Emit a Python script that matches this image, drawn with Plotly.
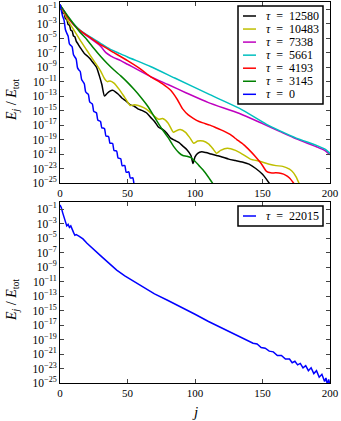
import plotly.graph_objects as go
from plotly.subplots import make_subplots

# exponents: log10(E_j / E_tot)

# top panel, tau = 12580 (black)
J_12580 = [0, 1, 2, 3, 4, 5, 6, 7, 8, 9, 10, 11, 12, 13, 15, 18, 21, 23, 25, 27, 29, 31, 33,
           35, 37, 39, 41, 43, 46, 49, 52, 55, 58, 61, 64, 67, 70, 73, 76, 79, 82, 85, 88,
           91, 94, 97, 98.5, 100, 102, 105, 108, 112, 116, 120, 125, 130, 135, 140, 145,
           150, 153, 156]
LOG_12580 = [-0.4, -0.9, -1.6, -1.5, -2.3, -2.4, -3.1, -3.2, -3.9, -4.0, -4.7, -4.8, -5.4,
             -5.7, -6.3, -7.1, -7.6, -8.0, -8.5, -9.0, -10.1, -11.4, -13.0, -12.6, -12.3,
             -12.2, -12.4, -12.7, -13.3, -13.7, -14.2, -14.4, -14.8, -15.0, -15.3, -15.9,
             -16.5, -17.3, -17.6, -18.1, -18.8, -19.1, -19.4, -19.9, -20.4, -21.2, -22.3,
             -21.4, -20.9, -20.7, -20.8, -21.0, -21.2, -21.4, -21.7, -21.9, -22.1, -22.4,
             -23.0, -23.8, -24.5, -25.3]

# tau = 10483 (yellow)
J_10483 = [0, 3, 6, 10, 15, 20, 25, 30, 33, 35, 37, 40, 44, 48, 52, 55, 58, 62, 66, 70, 73,
           76, 80, 84, 86, 89, 93, 96, 99, 102, 106, 110, 113, 116, 119, 124, 130, 135, 141,
           148, 155, 160, 165, 170, 173, 175, 177, 179]
LOG_10483 = [-0.4, -1.5, -2.6, -3.8, -5.3, -6.7, -8.1, -9.5, -10.6, -11.0, -10.9, -11.2,
             -12.1, -13.2, -14.3, -14.2, -14.3, -14.6, -15.1, -15.8, -16.2, -16.1, -16.7,
             -18.0, -17.8, -17.6, -18.0, -18.7, -19.5, -19.2, -19.2, -19.6, -20.2, -20.9,
             -20.5, -20.2, -20.5, -21.0, -21.7, -22.0, -22.4, -22.6, -22.7, -23.1, -23.6,
             -24.2, -25.0, -25.6]

# tau = 7338 (magenta)
J_7338 = [0, 3, 6, 10, 15, 23, 30, 34, 38, 45, 50, 67, 80, 94, 110, 133, 150, 163, 175,
          190, 196, 200]
LOG_7338 = [-0.4, -1.3, -2.2, -3.1, -4.0, -5.1, -6.1, -7.0, -7.5, -8.1, -8.6, -10.3, -11.4,
            -12.6, -13.9, -15.4, -16.8, -17.9, -18.9, -20.0, -20.5, -21.1]

# tau = 5661 (cyan)
J_5661 = [0, 3, 6, 10, 15, 23, 30, 37, 44, 50, 67, 85, 111, 133, 153, 163, 175, 190, 196, 200]
LOG_5661 = [-0.4, -1.3, -2.1, -3.0, -3.9, -4.9, -5.7, -6.5, -7.1, -7.6, -8.9, -10.5, -12.8,
            -14.7, -16.9, -17.8, -18.8, -19.8, -20.3, -20.9]

# tau = 4193 (red)
J_4193 = [0, 3, 6, 10, 16, 23, 30, 40, 50, 60, 67, 76, 82, 87, 91, 95, 99, 103, 106, 111,
          116, 121, 126, 131, 136, 141, 145, 149, 153, 156, 160, 164, 167, 170, 173, 175]
LOG_4193 = [-0.4, -1.3, -2.2, -3.1, -4.1, -5.0, -5.9, -7.0, -8.1, -9.3, -10.3, -11.3, -12.2,
            -13.5, -14.8, -15.6, -16.1, -16.5, -16.7, -17.0, -17.4, -17.8, -18.3, -19.0,
            -19.7, -20.6, -21.4, -22.3, -23.4, -23.6, -23.6, -23.7, -23.9, -24.3, -25.0,
            -25.5]

# tau = 3145 (green)
J_3145 = [0, 3, 6, 10, 15, 20, 25, 30, 35, 40, 45, 50, 55, 60, 65, 70, 75, 80, 84, 88, 91,
          94, 97, 100, 103, 106, 110, 114]
LOG_3145 = [-0.4, -1.2, -2.0, -3.0, -4.2, -5.2, -6.4, -7.5, -8.5, -9.4, -10.2, -11.1, -12.1,
            -13.2, -14.4, -15.9, -17.4, -18.7, -19.9, -20.8, -21.2, -21.3, -21.5, -22.0,
            -22.6, -23.2, -24.2, -25.3]

# tau = 0 (blue)
J_0 = list(range(0, 58))
LOG_0 = [-0.3, -1.2, -2.0, -2.5, -3.8, -4.3, -4.7, -5.8, -6.0, -6.2, -7.3, -7.6, -7.9,
         -9.1, -9.4, -9.6, -10.7, -11.0, -11.3, -12.4, -12.6, -12.75, -13.8, -13.95, -14.1,
         -15.1, -15.2, -15.3, -16.3, -16.4, -16.5, -17.4, -17.4, -17.5, -18.5, -18.55,
         -18.6, -19.5, -19.5, -19.55, -20.5, -20.55, -20.6, -21.55, -21.6, -21.65, -22.6,
         -22.6, -22.6, -23.5, -23.5, -23.45, -24.3, -24.3, -24.3, -25.2, -25.2, -25.2]

# bottom panel, tau = 22015 (blue)
J_22015 = [0, 1, 2, 3, 4, 5, 6, 7, 8, 9, 10, 11, 12, 14, 17, 20, 25, 30, 36, 42, 48, 55, 62,
           70, 80, 90, 100, 110, 120, 130, 140, 143, 146, 149, 152, 155, 158, 161, 164, 167,
           170, 172, 174, 176, 178, 180, 182, 184, 186, 188, 190, 192, 194, 196, 197, 198,
           199, 200]
LOG_22015 = [-0.4, -0.8, -1.5, -2.2, -2.8, -3.3, -3.1, -3.5, -3.3, -3.9, -4.2, -4.6, -4.5,
             -4.7, -5.1, -5.7, -6.6, -7.4, -8.4, -9.4, -10.2, -11.0, -11.8, -12.7, -13.6,
             -14.5, -15.5, -16.5, -17.4, -18.4, -19.2, -19.5, -19.6, -20.1, -20.2, -20.6,
             -20.7, -21.2, -21.2, -21.7, -21.7, -22.2, -22.0, -22.5, -22.3, -22.9, -22.6,
             -23.3, -22.9, -23.7, -23.3, -24.2, -23.8, -24.8, -24.3, -25.2, -24.5, -25.3]

TOP_TAUS = ["12580", "10483", "7338", "5661", "4193", "3145", "0"]
TOP_J = [J_12580, J_10483, J_7338, J_5661, J_4193, J_3145, J_0]
TOP_LOG = [LOG_12580, LOG_10483, LOG_7338, LOG_5661, LOG_4193, LOG_3145, LOG_0]
TOP_COLORS = ["#000000", "#bfbf00", "#bf00bf", "#00bfbf", "#ff0000", "#008000", "#0000ff"]
BOTTOM_TAU = "22015"

X_TICKS = [0, 50, 100, 150, 200]
Y_TICK_EXP = [-1, -3, -5, -7, -9, -11, -13, -15, -17, -19, -21, -23, -25]

FONT = "Liberation Serif"
W, H = 341, 421
ML, MR, MT, MB = 60, 11, 2, 38


def px_x(x):
    return (x - ML) / (W - ML - MR)


def px_y(y):
    return (H - MB - y) / (H - MT - MB)


def tau_label(t):
    return "<i>τ</i>&nbsp; = &nbsp;" + t


fig = make_subplots(rows=2, cols=1)

for tau, js, logs, col in zip(TOP_TAUS, TOP_J, TOP_LOG, TOP_COLORS):
    fig.add_trace(go.Scatter(
        x=js, y=[10.0 ** v for v in logs], mode="lines",
        line=dict(color=col, width=1.5, shape="spline", smoothing=0.6),
        name="τ = " + tau, showlegend=False), row=1, col=1)

fig.add_trace(go.Scatter(
    x=J_22015, y=[10.0 ** v for v in LOG_22015], mode="lines",
    line=dict(color="#0000ff", width=1.5),
    name="τ = " + BOTTOM_TAU, showlegend=False), row=2, col=1)

axis_x = dict(range=[0, 200], tickvals=X_TICKS, ticks="inside", ticklen=4,
              showline=True, linecolor="black", linewidth=1, mirror="ticks",
              showgrid=False, zeroline=False, automargin=False,
              tickfont=dict(family=FONT, size=11, color="black"))
axis_y = dict(type="log", range=[-25, 0], tickvals=[10.0 ** e for e in Y_TICK_EXP],
              ticktext=["10<sup>−%d</sup>" % (-e) for e in Y_TICK_EXP],
              ticks="inside", ticklen=4, showline=True, linecolor="black", linewidth=1,
              mirror="ticks", showgrid=False, zeroline=False, automargin=False,
              tickfont=dict(family=FONT, size=11.5, color="black"))

top_dom = [px_y(183), 1]
bot_dom = [0, px_y(202)]
fig.update_layout(
    width=W, height=H, margin=dict(l=ML, r=MR, t=MT, b=MB, autoexpand=False),
    paper_bgcolor="white", plot_bgcolor="white",
    xaxis=dict(axis_x), yaxis=dict(axis_y, domain=top_dom),
    xaxis2=dict(axis_x), yaxis2=dict(axis_y, domain=bot_dom),
)

shapes = []
annotations = []

# legend of the top panel, drawn by hand to match the compact spacing
shapes.append(dict(type="rect", xref="paper", yref="paper", layer="above",
                   x0=px_x(238), x1=px_x(323), y0=px_y(104), y1=px_y(6),
                   line=dict(color="black", width=1.5), fillcolor="white"))
for i, (tau, col) in enumerate(zip(TOP_TAUS, TOP_COLORS)):
    yy = 16 + 13.05 * i
    shapes.append(dict(type="line", xref="paper", yref="paper", layer="above",
                       x0=px_x(243), x1=px_x(256), y0=px_y(yy), y1=px_y(yy),
                       line=dict(color=col, width=1.5)))
    annotations.append(dict(xref="paper", yref="paper", x=px_x(264), y=px_y(yy),
                            xanchor="left", yanchor="middle", showarrow=False,
                            text=tau_label(tau),
                            font=dict(family=FONT, size=12, color="black")))

# legend of the bottom panel
shapes.append(dict(type="rect", xref="paper", yref="paper", layer="above",
                   x0=px_x(238), x1=px_x(323), y0=px_y(226), y1=px_y(206),
                   line=dict(color="black", width=1.5), fillcolor="white"))
shapes.append(dict(type="line", xref="paper", yref="paper", layer="above",
                   x0=px_x(243), x1=px_x(256), y0=px_y(216), y1=px_y(216),
                   line=dict(color="#0000ff", width=1.5)))
annotations.append(dict(xref="paper", yref="paper", x=px_x(264), y=px_y(216),
                        xanchor="left", yanchor="middle", showarrow=False,
                        text=tau_label(BOTTOM_TAU),
                        font=dict(family=FONT, size=12, color="black")))

# axis titles
for yc in (100, 300):
    annotations.append(dict(xref="paper", yref="paper", x=px_x(12), y=px_y(yc),
                            xanchor="center", yanchor="middle", showarrow=False,
                            textangle=-90,
                            text="<i>E<sub>j</sub></i> / <i>E</i><sub>tot</sub>",
                            font=dict(family=FONT, size=14, color="black")))
annotations.append(dict(xref="paper", yref="paper", x=px_x(195), y=px_y(412),
                        xanchor="center", yanchor="middle", showarrow=False,
                        text="<i>j</i>", font=dict(family=FONT, size=15, color="black")))

fig.update_layout(shapes=shapes, annotations=annotations)

# the page's default 8px body margin would shift the whole figure
fig.write_html("out.html", config={"displayModeBar": False},
               post_script="document.body.style.margin = '0px';")
